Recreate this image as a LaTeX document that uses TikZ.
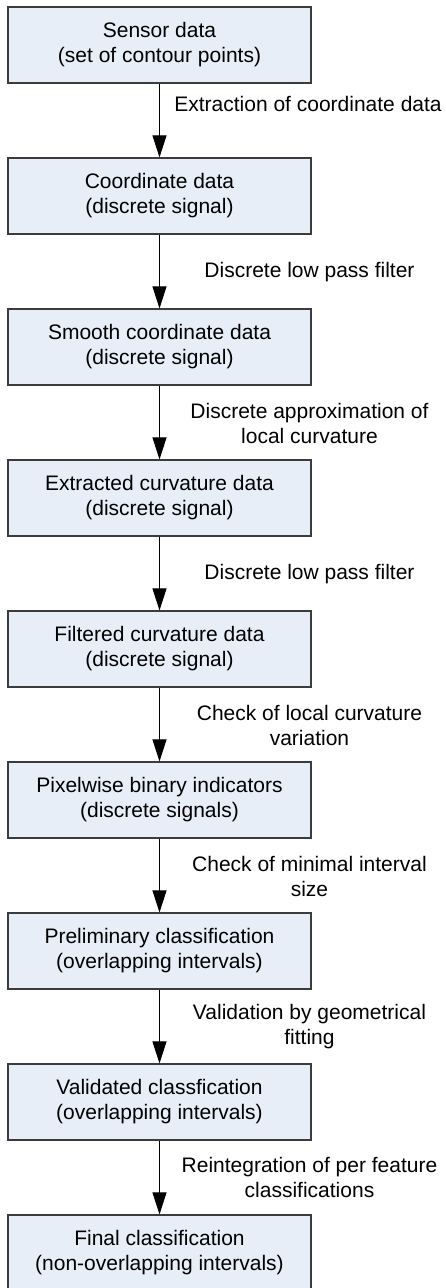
\documentclass[tikz,border=0pt]{standalone}
\usepackage{fontspec}
\setmainfont{Liberation Sans}
\usetikzlibrary{arrows.meta}
\definecolor{boxfill}{RGB}{232,238,247}
\definecolor{boxline}{RGB}{60,60,60}
\begin{document}
\begin{tikzpicture}[x=1pt,y=-1pt,
  box/.style={draw=boxline, line width=1.2pt, fill=boxfill, minimum width=303pt, minimum height=76pt, inner sep=0pt, align=center, font=\fontsize{21}{25}\selectfont},
  lbl/.style={align=center, inner sep=0pt, font=\fontsize{21}{25}\selectfont},
  arr/.style={draw=black, line width=1pt, -{Triangle[length=22pt,width=14pt]}}]
\useasboundingbox (0,0) rectangle (446,1288);
\node[box] (b1) at (159.5,45) {Sensor data\\(set of contour points)};
\node[box] (b2) at (159.5,196) {Coordinate data\\(discrete signal)};
\node[box] (b3) at (159.5,347) {Smooth coordinate data\\(discrete signal)};
\node[box] (b4) at (159.5,498) {Extracted curvature data\\(discrete signal)};
\node[box] (b5) at (159.5,649) {Filtered curvature data\\(discrete signal)};
\node[box] (b6) at (159.5,800) {Pixelwise binary indicators\\(discrete signals)};
\node[box] (b7) at (159.5,951) {Preliminary classification\\(overlapping intervals)};
\node[box] (b8) at (159.5,1102) {Validated classfication\\(overlapping intervals)};
\node[box] (b9) at (159.5,1253) {Final classification\\(non-overlapping intervals)};
\draw[arr] (b1.south) -- (b2.north);
\draw[arr] (b2.south) -- (b3.north);
\draw[arr] (b3.south) -- (b4.north);
\draw[arr] (b4.south) -- (b5.north);
\draw[arr] (b5.south) -- (b6.north);
\draw[arr] (b6.south) -- (b7.north);
\draw[arr] (b7.south) -- (b8.north);
\draw[arr] (b8.south) -- (b9.north);
\node[lbl] (l1) at (308,104) {Extraction of coordinate data};
\node[lbl] (l2) at (309.5,272.5) {Discrete low pass filter};
\node[lbl] (l3) at (309.5,423.5) {Discrete approximation of\\local curvature};
\node[lbl] (l4) at (309.5,574) {Discrete low pass filter};
\node[lbl] (l5) at (309.5,725) {Check of local curvature\\variation};
\node[lbl] (l6) at (309.5,876) {Check of minimal interval\\size};
\node[lbl] (l7) at (309.5,1026.5) {Validation by geometrical\\fitting};
\node[lbl] (l8) at (309.5,1177) {Reintegration of per feature\\classifications};
\end{tikzpicture}
\end{document}
